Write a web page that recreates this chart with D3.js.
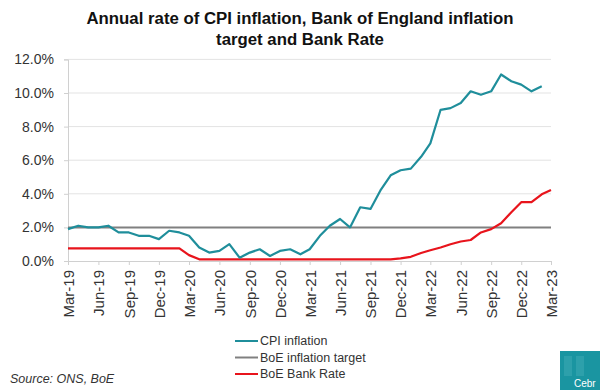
<!DOCTYPE html>
<html>
<head>
<meta charset="utf-8">
<script src="https://cdn.jsdelivr.net/npm/d3@7"></script>
<style>
  body { margin: 0; background: #fff; }
  svg { font-family: "Liberation Sans", Arial, sans-serif; }
</style>
</head>
<body>
<svg id="chart"></svg>
<script>
// months, Mar-19 .. Mar-23
const months = d3.timeMonth.range(new Date(2019, 2, 1), new Date(2023, 3, 1));

// CPI annual rate (%), Mar-19 .. Feb-23
const cpi = [
  1.9, 2.1, 2.0, 2.0, 2.1, 1.7, 1.7, 1.5, 1.5, 1.3,
  1.8, 1.7, 1.5, 0.8, 0.5, 0.6, 1.0, 0.2, 0.5, 0.7, 0.3, 0.6,
  0.7, 0.4, 0.7, 1.5, 2.1, 2.5, 2.0, 3.2, 3.1, 4.2, 5.1, 5.4,
  5.5, 6.2, 7.0, 9.0, 9.1, 9.4, 10.1, 9.9, 10.1, 11.1, 10.7, 10.5,
  10.1, 10.4
];

// Bank Rate (%), Mar-19 .. Mar-23
const bankRate = [
  0.75, 0.75, 0.75, 0.75, 0.75, 0.75, 0.75, 0.75, 0.75, 0.75,
  0.75, 0.75, 0.35, 0.1, 0.1, 0.1, 0.1, 0.1, 0.1, 0.1, 0.1, 0.1,
  0.1, 0.1, 0.1, 0.1, 0.1, 0.1, 0.1, 0.1, 0.1, 0.1, 0.1, 0.16,
  0.25, 0.48, 0.64, 0.8, 1.0, 1.16, 1.25, 1.7, 1.9, 2.25, 2.9, 3.5,
  3.5, 3.97, 4.23
];

const target = 2.0;

const yTicks = [0, 2, 4, 6, 8, 10, 12];
// quarterly ticks starting at Mar-19
const xTickMonths = d3.timeMonth.range(new Date(2019, 2, 1), new Date(2023, 3, 1), 3);

const seriesNames = ["CPI inflation", "BoE inflation target", "BoE Bank Rate"];
const colors = ["#1f8e9b", "#808080", "#e8141c"];

const W = 600, H = 390;
const svg = d3.select("#chart").attr("width", W).attr("height", H);

const x = d3.scaleTime()
  .domain([months[0], months[months.length - 1]])
  .range([68, 551]);
const y = d3.scaleLinear().domain([0, 12]).range([261, 59.4]);

// title
svg.append("text")
  .attr("x", 300).attr("y", 24)
  .attr("text-anchor", "middle")
  .style("font-size", "16.8px").style("font-weight", "bold").attr("fill", "#111")
  .text("Annual rate of CPI inflation, Bank of England inflation");
svg.append("text")
  .attr("x", 300).attr("y", 45)
  .attr("text-anchor", "middle")
  .style("font-size", "16.8px").style("font-weight", "bold").attr("fill", "#111")
  .text("target and Bank Rate");

// gridlines
svg.append("g")
  .selectAll("line")
  .data(yTicks.slice(1))
  .enter()
  .append("line")
  .attr("x1", 68).attr("x2", 551)
  .attr("y1", (d) => y(d)).attr("y2", (d) => y(d))
  .attr("stroke", "#e3e3e3").attr("stroke-width", 1);

// y axis
const yAxis = svg.append("g")
  .attr("transform", "translate(68,0)")
  .call(d3.axisLeft(y).tickValues(yTicks).tickSize(4).tickPadding(10)
    .tickFormat((d) => d.toFixed(1) + "%"));
yAxis.select(".domain").attr("stroke", "#d0d0d0");
yAxis.selectAll(".tick line").attr("stroke", "#d0d0d0");
yAxis.selectAll("text").style("font-size", "14px").attr("fill", "#333")
  .style("font-family", "'Liberation Sans', Arial, sans-serif");

// x axis
const xAxis = svg.append("g")
  .attr("transform", `translate(0,${y(0)})`)
  .call(d3.axisBottom(x).tickValues(xTickMonths).tickSize(4)
    .tickFormat(d3.timeFormat("%b-%y")));
xAxis.select(".domain").attr("stroke", "#d0d0d0");
xAxis.selectAll(".tick line").attr("stroke", "#d0d0d0");
xAxis.selectAll("text")
  .style("font-size", "15px").attr("fill", "#333")
  .style("font-family", "'Liberation Sans', Arial, sans-serif")
  .attr("text-anchor", "end")
  .attr("transform", "rotate(-90)")
  .attr("x", -9).attr("y", 0).attr("dy", "0.36em");

const line = d3.line()
  .x((d) => x(d[0]))
  .y((d) => y(d[1]));

// target
svg.append("path")
  .datum([[months[0], target], [months[months.length - 1], target]])
  .attr("d", line)
  .attr("fill", "none").attr("stroke", colors[1]).attr("stroke-width", 2);

// bank rate
svg.append("path")
  .datum(bankRate.map((v, i) => [months[i], v]))
  .attr("d", line)
  .attr("fill", "none").attr("stroke", colors[2]).attr("stroke-width", 2.2)
  .attr("stroke-linejoin", "round");

// cpi
svg.append("path")
  .datum(cpi.map((v, i) => [months[i], v]))
  .attr("d", line)
  .attr("fill", "none").attr("stroke", colors[0]).attr("stroke-width", 2.2)
  .attr("stroke-linejoin", "round");

// legend
const legend = svg.append("g")
  .selectAll("g")
  .data(seriesNames)
  .enter()
  .append("g")
  .attr("transform", (d, i) => `translate(235,${341 + i * 16.5})`);
legend.append("line")
  .attr("x1", 0).attr("x2", 23)
  .attr("stroke", (d, i) => colors[i]).attr("stroke-width", 2);
legend.append("text")
  .attr("x", 25).attr("dy", "0.35em")
  .style("font-size", "12.5px").attr("fill", "#333")
  .text((d) => d);

// source
svg.append("text")
  .attr("x", 10).attr("y", 383)
  .style("font-size", "12.5px").style("font-style", "italic").attr("fill", "#333")
  .text("Source: ONS, BoE");

// Cebr logo block in the corner
const logo = svg.append("g").attr("transform", "translate(560,351)");
logo.append("rect").attr("width", 40).attr("height", 39).attr("fill", "#1a95a1");
logo.append("rect").attr("x", 4).attr("y", 5).attr("width", 8).attr("height", 20)
  .attr("fill", "#3aa8b2").attr("opacity", 0.6);
logo.append("rect").attr("x", 16).attr("y", 5).attr("width", 8).attr("height", 20)
  .attr("fill", "#3aa8b2").attr("opacity", 0.6);
logo.append("text").attr("x", 14).attr("y", 36)
  .style("font-size", "10px").attr("fill", "#fff").text("Cebr");
</script>
</body>
</html>
